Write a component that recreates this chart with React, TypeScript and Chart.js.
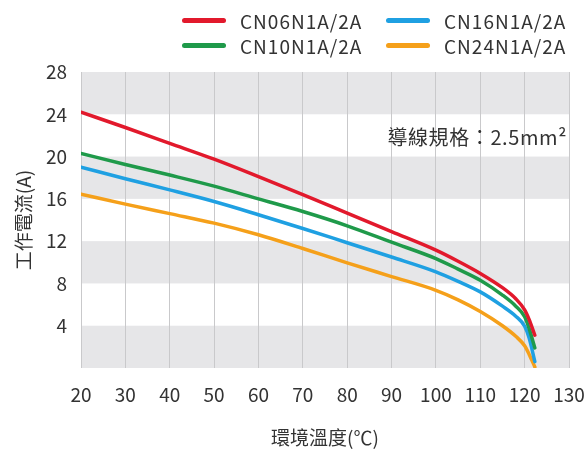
import React, { useEffect, useRef } from "react";
import { Chart, registerables } from "chart.js";

Chart.register(...registerables);

const temperatures = [20, 30, 40, 50, 60, 70, 80, 90, 100, 105, 110, 115, 118, 120, 121, 122.3];
const cn06 = [24.2, 22.75, 21.25, 19.75, 18.1, 16.4, 14.65, 12.9, 11.15, 10.1, 8.95, 7.6, 6.55, 5.5, 4.6, 3.1];
const cn10 = [20.3, 19.25, 18.25, 17.2, 16.0, 14.8, 13.45, 11.9, 10.35, 9.35, 8.3, 6.9, 5.85, 4.85, 3.75, 1.9];
const cn16 = [19.0, 17.9, 16.85, 15.75, 14.5, 13.2, 11.85, 10.5, 9.1, 8.2, 7.2, 5.85, 4.9, 3.95, 2.85, 0.6];
const cn24 = [16.45, 15.5, 14.6, 13.7, 12.6, 11.3, 9.95, 8.65, 7.35, 6.45, 5.35, 4.0, 3.0, 2.1, 1.3, 0.1];

const seriesNames = ["CN06N1A/2A", "CN10N1A/2A", "CN16N1A/2A", "CN24N1A/2A"];
const seriesColors = ["#e2192c", "#1f9a4a", "#1fa0e2", "#f5a01a"];
const seriesValues = [cn06, cn10, cn16, cn24];
// legend order (row-wise): red, blue / green, orange
const legendOrder = [0, 2, 1, 3];

const xTicks = [20, 30, 40, 50, 60, 70, 80, 90, 100, 110, 120, 130];
const yTicks = [4, 8, 12, 16, 20, 24, 28];

const yTitle = "工作電流(A)";
const xTitle = "環境溫度(℃)";
const noteText = "導線規格：2.5mm²";

const FONT = '"Noto Sans CJK TC", "Noto Sans", sans-serif';
const TEXT = "#333333";

const bandsPlugin = {
  id: "bands",
  beforeDraw(chart: any) {
    const { ctx, chartArea, scales } = chart;
    const y = scales.y;
    ctx.save();
    ctx.fillStyle = "#e6e6e8";
    for (let v = 0; v < 28; v += 8) {
      const top = y.getPixelForValue(v + 4);
      const bottom = y.getPixelForValue(v);
      ctx.fillRect(chartArea.left, top, chartArea.right - chartArea.left, bottom - top);
    }
    ctx.restore();
  },
};

const notePlugin = {
  id: "note",
  afterDraw(chart: any) {
    const { ctx, chartArea } = chart;
    ctx.save();
    ctx.font = `20px ${FONT}`;
    (ctx as any).letterSpacing = "0.6px";
    ctx.fillStyle = TEXT;
    ctx.textAlign = "right";
    ctx.textBaseline = "middle";
    ctx.fillText(noteText, chartArea.right - 2, chartArea.top + 65);
    ctx.restore();
  },
};

export default function App() {
  const ref = useRef<HTMLCanvasElement>(null);

  useEffect(() => {
    if (!ref.current) return;
    const chart = new Chart(ref.current, {
      type: "line",
      data: {
        datasets: seriesValues.map((vals, i) => ({
          label: seriesNames[i],
          data: vals.map((v, j) => ({ x: temperatures[j], y: v })),
          borderColor: seriesColors[i],
          backgroundColor: seriesColors[i],
          borderWidth: 3.5,
          pointRadius: 0,
          cubicInterpolationMode: "monotone" as const,
          borderCapStyle: "round" as const,
        })),
      },
      options: {
        animation: false,
        responsive: false,
        devicePixelRatio: 1,
        layout: { padding: { top: 72, right: 18, left: 0, bottom: 0 } },
        plugins: {
          legend: { display: false },
          tooltip: { enabled: false },
        },
        scales: {
          x: {
            type: "linear",
            min: 20,
            max: 130,
            afterBuildTicks: (scale: any) => {
              scale.ticks = xTicks.map((v) => ({ value: v }));
            },
            afterFit: (scale: any) => {
              scale.height = 81;
              scale.paddingLeft = 0;
              scale.paddingRight = 0;
            },
            ticks: {
              font: { family: FONT, size: 19 },
              color: TEXT,
              padding: 15,
              maxRotation: 0,
              autoSkip: false,
            },
            grid: { color: "#c9c9cb", lineWidth: 1, drawTicks: false },
            border: { display: false },
            title: {
              display: true,
              text: xTitle,
              font: { family: FONT, size: 19 },
              color: TEXT,
              padding: { top: 0, bottom: 0 },
            },
          },
          y: {
            min: 0,
            max: 28,
            afterBuildTicks: (scale: any) => {
              scale.ticks = yTicks.map((v) => ({ value: v }));
            },
            afterFit: (scale: any) => {
              scale.width = 81;
              scale.paddingTop = 0;
              scale.paddingBottom = 0;
            },
            ticks: {
              font: { family: FONT, size: 19 },
              color: TEXT,
              padding: 14,
              autoSkip: false,
            },
            grid: { display: false, drawTicks: false },
            border: { display: false },
            title: {
              display: true,
              text: yTitle,
              font: { family: FONT, size: 19 },
              color: TEXT,
              padding: { top: 12, bottom: 0 },
            },
          },
        },
      },
      plugins: [bandsPlugin, notePlugin],
    });
    return () => chart.destroy();
  }, []);

  return (
    <div style={{ position: "absolute", left: 0, top: 0, width: 587, height: 449, background: "#fff" }}>
      <canvas ref={ref} width={587} height={449} style={{ display: "block" }} />
      <div
        style={{
          position: "absolute",
          left: 182,
          top: 8,
          display: "grid",
          gridTemplateColumns: "204px 204px",
          fontFamily: FONT,
          fontSize: 19,
          color: TEXT,
          letterSpacing: 1,
        }}
      >
        {legendOrder.map((i) => (
          <div key={i} style={{ display: "flex", alignItems: "center", height: 25 }}>
            <span
              style={{
                display: "inline-block",
                width: 44,
                height: 5,
                borderRadius: 3,
                background: seriesColors[i],
                marginRight: 14,
              }}
            />
            <span style={{ lineHeight: "25px" }}>{seriesNames[i]}</span>
          </div>
        ))}
      </div>
    </div>
  );
}
